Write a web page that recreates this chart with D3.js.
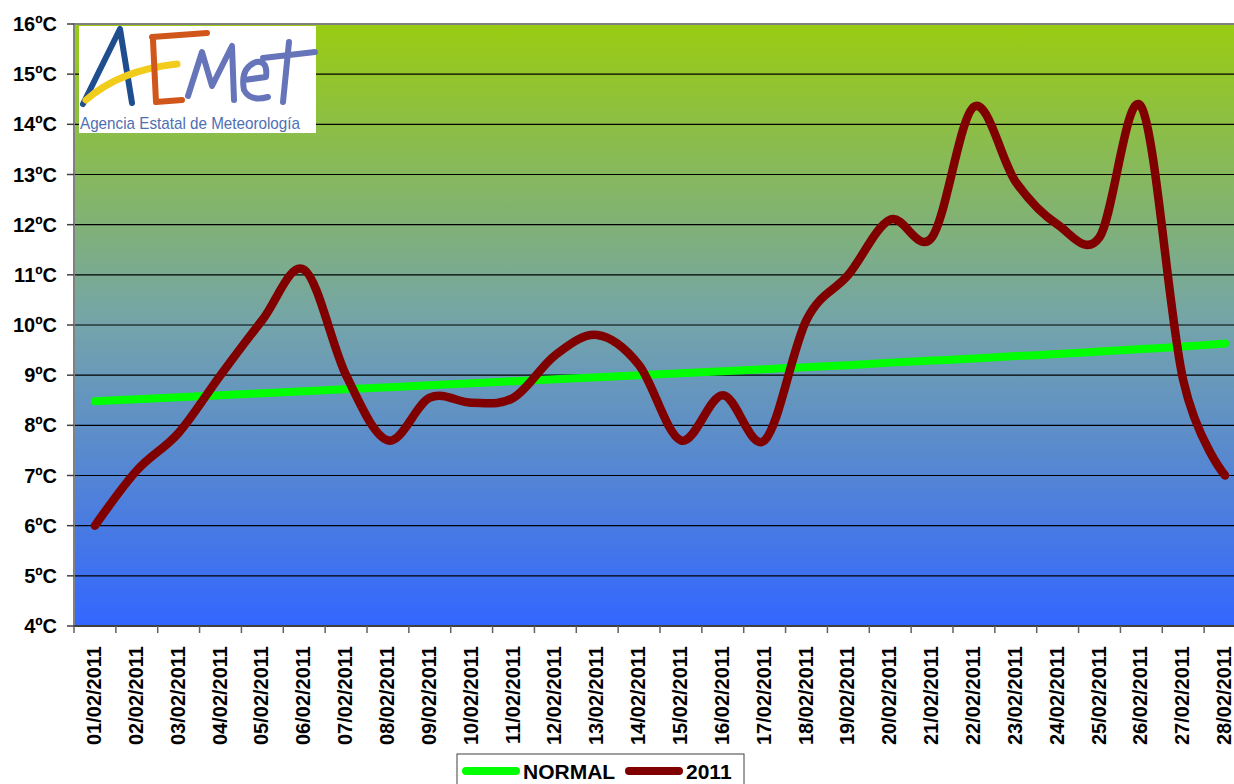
<!DOCTYPE html>
<html>
<head>
<meta charset="utf-8">
<script src="https://cdn.jsdelivr.net/npm/d3@7"></script>
<style>
    body { margin: 0; background: #fff; }
    svg { display: block; font-family: "Liberation Sans", Arial, sans-serif; }
</style>
</head>
<body>
<svg id="chart" width="1234" height="784"></svg>
<script>
const days = ["01/02/2011", "02/02/2011", "03/02/2011", "04/02/2011", "05/02/2011", "06/02/2011", "07/02/2011",
    "08/02/2011", "09/02/2011", "10/02/2011", "11/02/2011", "12/02/2011", "13/02/2011", "14/02/2011",
    "15/02/2011", "16/02/2011", "17/02/2011", "18/02/2011", "19/02/2011", "20/02/2011", "21/02/2011",
    "22/02/2011", "23/02/2011", "24/02/2011", "25/02/2011", "26/02/2011", "27/02/2011", "28/02/2011"];
const normal = [8.48, 8.52, 8.56, 8.60, 8.64, 8.68, 8.72, 8.76, 8.80, 8.84, 8.88, 8.92, 8.96, 9.00,
    9.04, 9.08, 9.12, 9.16, 9.20, 9.25, 9.29, 9.33, 9.38, 9.42, 9.47, 9.52, 9.57, 9.63];
const temp2011 = [6.0, 7.1, 7.85, 9.0, 10.1, 11.1, 9.0, 7.7, 8.55, 8.45, 8.55, 9.4, 9.8, 9.2,
    7.7, 8.6, 7.7, 10.1, 11.0, 12.1, 11.75, 14.35, 12.85, 12.0, 11.75, 14.35, 8.9, 7.0];
const yTicks = [4, 5, 6, 7, 8, 9, 10, 11, 12, 13, 14, 15, 16];

const svg = d3.select("#chart");
const plotLeft = 74, plotRight = 1246, plotTop = 24, plotBottom = 626;

const x = d3.scaleBand().domain(days).range([plotLeft, plotRight]);
const y = d3.scaleLinear().domain([4, 16]).range([plotBottom, plotTop]);
const cx = d => x(d) + x.bandwidth() / 2;

// background gradient
const grad = svg.append("defs").append("linearGradient")
    .attr("id", "bg").attr("x1", 0).attr("y1", 0).attr("x2", 0).attr("y2", 1);
grad.append("stop").attr("offset", "0%").attr("stop-color", "#99cc11");
grad.append("stop").attr("offset", "50%").attr("stop-color", "#74a4aa");
grad.append("stop").attr("offset", "100%").attr("stop-color", "#3366ff");

svg.append("rect")
    .attr("x", plotLeft).attr("y", plotTop)
    .attr("width", plotRight - plotLeft).attr("height", plotBottom - plotTop)
    .attr("fill", "url(#bg)");

// gridlines
svg.append("g").selectAll("line")
    .data(yTicks.filter(v => v > 4 && v < 16))
    .enter().append("line")
    .attr("x1", plotLeft).attr("x2", plotRight)
    .attr("y1", d => y(d)).attr("y2", d => y(d))
    .attr("stroke", "#000").attr("stroke-width", 1.2);

svg.append("line")
    .attr("x1", plotLeft).attr("x2", plotRight)
    .attr("y1", plotTop).attr("y2", plotTop)
    .attr("stroke", "#808080").attr("stroke-width", 2);

// y axis
svg.append("line")
    .attr("x1", plotLeft).attr("x2", plotLeft)
    .attr("y1", plotTop - 1).attr("y2", plotBottom + 1)
    .attr("stroke", "#808080").attr("stroke-width", 2);

const yAxis = svg.append("g").selectAll("g")
    .data(yTicks).enter().append("g");
yAxis.append("line")
    .attr("x1", plotLeft - 7).attr("x2", plotLeft)
    .attr("y1", d => y(d)).attr("y2", d => y(d))
    .attr("stroke", "#404040").attr("stroke-width", 1.5);
yAxis.append("text")
    .attr("x", 57).attr("y", d => y(d) + 7)
    .attr("text-anchor", "end")
    .attr("font-size", 20).attr("font-weight", "bold")
    .text(d => d + "ºC");

// x axis
svg.append("line")
    .attr("x1", plotLeft).attr("x2", plotRight)
    .attr("y1", plotBottom).attr("y2", plotBottom)
    .attr("stroke", "#404040").attr("stroke-width", 2);

svg.append("g").selectAll("line")
    .data(days).enter().append("line")
    .attr("x1", d => x(d)).attr("x2", d => x(d))
    .attr("y1", plotBottom).attr("y2", plotBottom + 7)
    .attr("stroke", "#606060").attr("stroke-width", 1.5);

svg.append("g").selectAll("text")
    .data(days).enter().append("text")
    .attr("transform", d => "translate(" + (cx(d) + 6) + ",646) rotate(-90)")
    .attr("text-anchor", "end")
    .attr("font-size", 20).attr("font-weight", "bold")
    .text(d => d);

// logo
const logo = svg.append("g");
logo.append("rect")
    .attr("x", 79).attr("y", 26).attr("width", 237).attr("height", 107)
    .attr("fill", "#fff");
const stroke = (d, color, w) => logo.append("path")
    .attr("d", d).attr("fill", "none").attr("stroke", color)
    .attr("stroke-width", w).attr("stroke-linecap", "round").attr("stroke-linejoin", "round");
stroke("M83,104 L120,29 L132,103", "#1f4e8f", 6);
stroke("M86,100 Q120,70 177,64", "#f2cc1b", 7);
stroke("M152,37 L207,33 M153,40 L156,102 L182,100", "#d1561c", 6);
stroke("M188,96 L202,52 L212,86 L232,46 L234,100", "#6675b9", 6);
stroke("M244,80 L266,77 Q268,60 256,62 Q240,68 244,90 Q250,102 268,97", "#6675b9", 6);
stroke("M289,42 L283,102 M263,58 L315,52", "#6675b9", 6);
logo.append("text")
    .attr("x", 80).attr("y", 129)
    .attr("font-size", 17).attr("fill", "#4f6fb3")
    .attr("textLength", 220).attr("lengthAdjust", "spacingAndGlyphs")
    .text("Agencia Estatal de Meteorología");

// series
const line = d3.line()
    .x((d, i) => cx(days[i]))
    .y(d => y(d))
    .curve(d3.curveCatmullRom.alpha(0));

svg.append("path")
    .datum(normal)
    .attr("d", line)
    .attr("fill", "none").attr("stroke", "#00ff00")
    .attr("stroke-width", 8).attr("stroke-linecap", "round");

svg.append("path")
    .datum(temp2011)
    .attr("d", line)
    .attr("fill", "none").attr("stroke", "#800000")
    .attr("stroke-width", 8.5).attr("stroke-linecap", "round");

// legend
const legend = svg.append("g");
legend.append("rect")
    .attr("x", 457).attr("y", 754).attr("width", 287).attr("height", 40)
    .attr("fill", "#fff").attr("stroke", "#404040").attr("stroke-width", 1);
const items = [
    { name: "NORMAL", color: "#00ff00", x: 462 },
    { name: "2011", color: "#800000", x: 625 }
];
legend.selectAll("g").data(items).enter().append("g")
    .each(function (d) {
        const g = d3.select(this);
        g.append("line")
            .attr("x1", d.x + 4).attr("x2", d.x + 54)
            .attr("y1", 771).attr("y2", 771)
            .attr("stroke", d.color).attr("stroke-width", 8).attr("stroke-linecap", "round");
        g.append("text")
            .attr("x", d.x + 61).attr("y", 779)
            .attr("font-size", 21).attr("font-weight", "bold")
            .text(d.name);
    });
</script>
</body>
</html>
